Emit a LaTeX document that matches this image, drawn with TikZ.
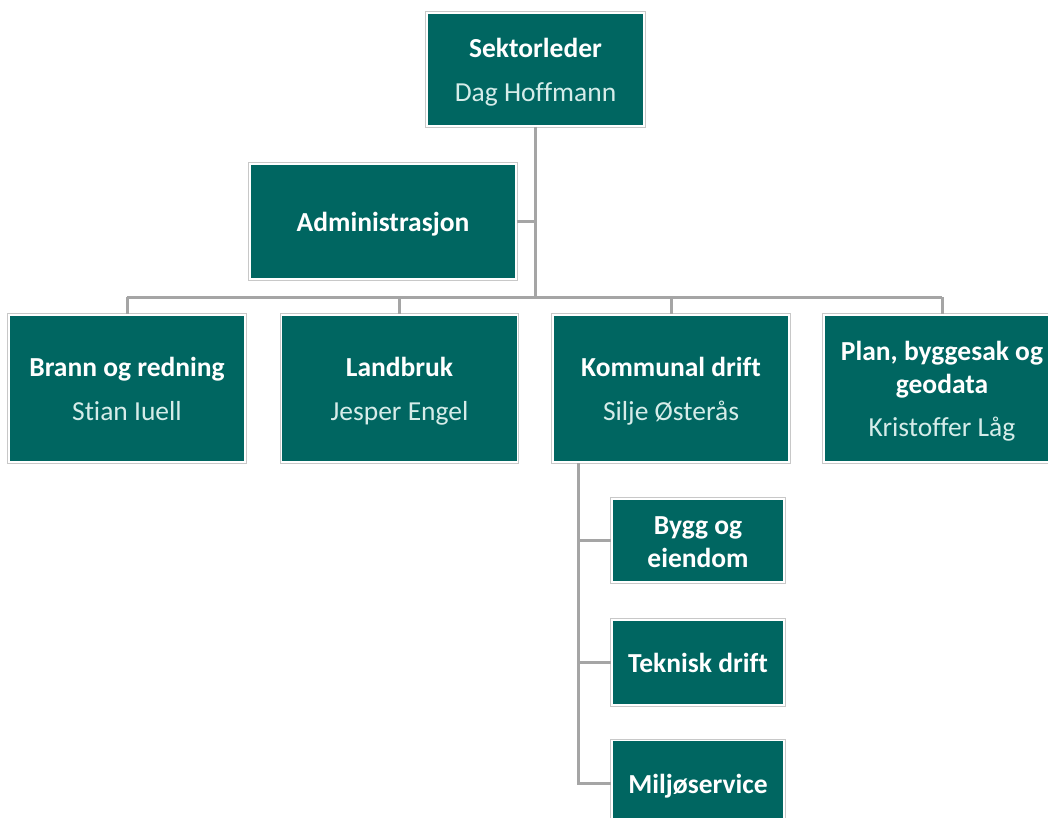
\documentclass[tikz,border=0pt]{standalone}
\usepackage{fontspec}
\setmainfont[Ligatures={NoCommon,NoRare}]{Carlito}
\definecolor{boxteal}{HTML}{006661}
\definecolor{namecol}{HTML}{D6ECE9}
\definecolor{linegray}{HTML}{A5A5A5}
\definecolor{bordergray}{HTML}{C8C8C8}
\tikzset{
  orgbox/.style={rectangle, fill=boxteal, draw=white, line width=1.2pt,
    preaction={draw=bordergray, line width=3.4pt},
    inner sep=0pt, align=center, text=white,
    font=\fontsize{27.5}{33}\selectfont},
  conn/.style={draw=linegray, line width=3pt},
}
\newcommand{\boxstrut}{\rule[-6.5pt]{0pt}{33pt}}
\newcommand{\ttl}[1]{{\bfseries\boxstrut #1}}
\newcommand{\nm}[1]{{\color{namecol}\boxstrut #1}}
\begin{document}
\begin{tikzpicture}[x=1pt,y=-1pt]
\useasboundingbox (0,0) rectangle (1048,818);
\clip (0,0) rectangle (1048,818);
\fill[white] (0,0) rectangle (1048,818);

% nodes
\node[orgbox, minimum width=217pt, minimum height=113pt] (sek) at (535.5,69.5)
  {\ttl{Sektorleder}\\[11pt]\nm{Dag Hoffmann}};
\node[orgbox, minimum width=266pt, minimum height=115pt] (adm) at (383,221.5)
  {\ttl{Administrasjon}};
\node[orgbox, minimum width=236pt, minimum height=147pt] (bra) at (127,388.5)
  {\ttl{Brann og redning}\\[11pt]\nm{Stian Iuell}};
\node[orgbox, minimum width=236pt, minimum height=147pt] (lan) at (399.5,388.5)
  {\ttl{Landbruk}\\[11pt]\nm{Jesper Engel}};
\node[orgbox, minimum width=236pt, minimum height=147pt] (kom) at (671,388.5)
  {\ttl{Kommunal drift}\\[11pt]\nm{Silje Østerås}};
\node[orgbox, minimum width=236pt, minimum height=147pt] (pla) at (942,388.5)
  {\ttl{Plan, byggesak og}\\\ttl{geodata}\\[10pt]\nm{Kristoffer Låg}};
\node[orgbox, minimum width=172pt, minimum height=83pt] (byg) at (698,540.5)
  {\ttl{Bygg og}\\\ttl{eiendom}};
\node[orgbox, minimum width=172pt, minimum height=85pt] (tek) at (698,662.5)
  {\ttl{Teknisk drift}};
\node[orgbox, minimum width=172pt, minimum height=85pt] (mil) at (698,783)
  {\ttl{Miljøservice}};

% connector helpers
\coordinate (bar) at (535.5,297);
\coordinate (trunk) at (578,463);

% connectors
\draw[conn] (sek.south) -- (sek.south |- bar);
\draw[conn] (adm.east) -- (sek.south |- adm.east);
\draw[conn] (bra.north |- bar) -- (pla.north |- bar);
\draw[conn] (bra.north |- bar) -- (bra.north);
\draw[conn] (lan.north |- bar) -- (lan.north);
\draw[conn] (kom.north |- bar) -- (kom.north);
\draw[conn] (pla.north |- bar) -- (pla.north);
\draw[conn] (trunk) -- (trunk |- mil.west) -- (mil.west);
\draw[conn] (trunk |- byg.west) -- (byg.west);
\draw[conn] (trunk |- tek.west) -- (tek.west);
\end{tikzpicture}
\end{document}
